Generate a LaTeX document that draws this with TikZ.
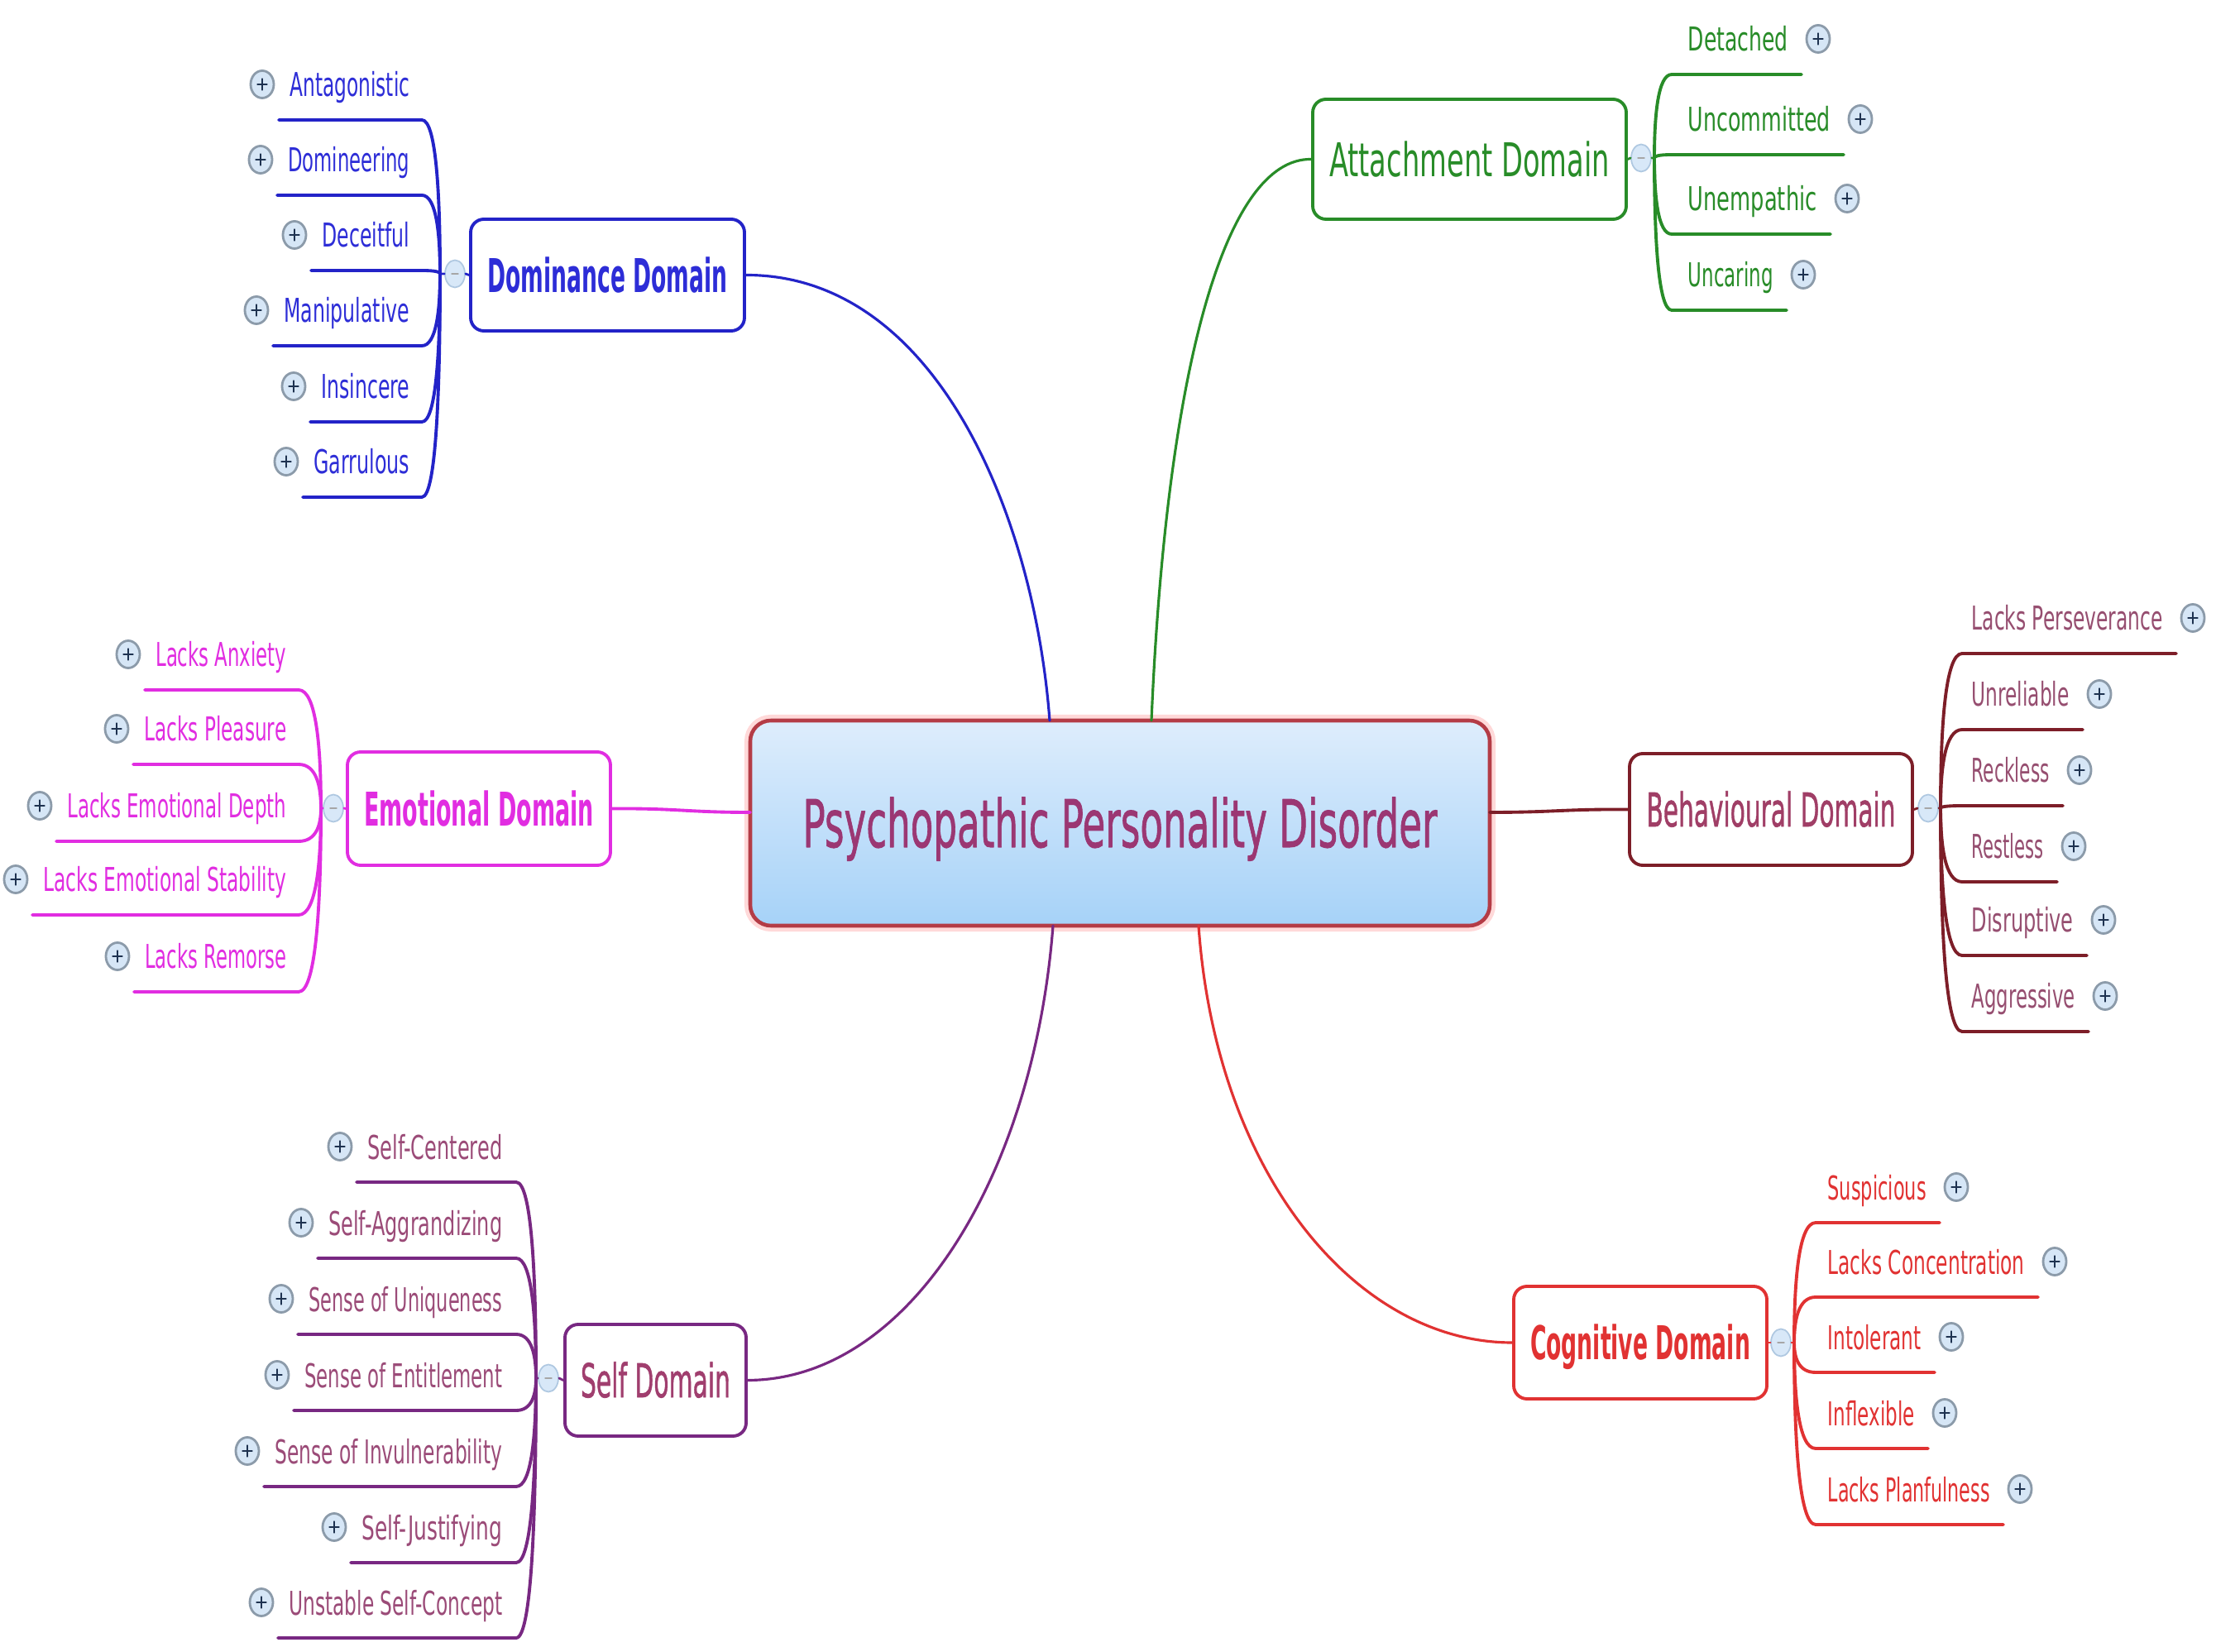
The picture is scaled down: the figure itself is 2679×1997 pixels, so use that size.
\documentclass[tikz,border=0pt]{standalone}
\usepackage{fontspec}
\setmainfont{DejaVu Sans}
\newfontfamily\medfont{DejaVu Sans}[FakeBold=1.3]
\usetikzlibrary{shapes.geometric}
\newlength\pxu \setlength\pxu{0.1mm}
\newcommand\tw[2]{\resizebox{#1\pxu}{\height}{#2}}
\definecolor{domblue}{RGB}{35,35,200}
\definecolor{domtxtc}{RGB}{45,45,215}
\definecolor{attgreen}{RGB}{40,140,40}
\definecolor{emomag}{RGB}{225,45,225}
\definecolor{behline}{RGB}{125,30,40}
\definecolor{behtxt}{RGB}{160,62,102}
\definecolor{behchild}{RGB}{150,78,112}
\definecolor{cogred}{RGB}{225,50,50}
\definecolor{selfline}{RGB}{120,40,130}
\definecolor{selftxt}{RGB}{160,62,110}
\definecolor{selfchild}{RGB}{155,75,120}
\definecolor{centtxt}{RGB}{155,55,115}
\definecolor{centline}{RGB}{180,60,70}
\definecolor{centtop}{RGB}{222,237,252}
\definecolor{centbot}{RGB}{166,210,248}
\definecolor{iconfill}{RGB}{214,230,246}
\definecolor{iconring}{RGB}{140,155,170}
\definecolor{iconplus}{RGB}{30,50,80}
\definecolor{colfill}{RGB}{216,232,248}
\definecolor{colring}{RGB}{175,200,225}
% #1 prefix #2 text right x #3 underline right x #4 jx #5 jy #6 text colour #7 line colour #8 list
\newcommand\leftgroup[8]{%
  \coordinate (#1-j) at (#4,#5);
  \foreach \t/\w/\uy [count=\i] in {#8} {
    \node[childtxt, text=#6, anchor=base east] (#1-c\i) at (#2,\uy-28) {\tw{\w}{\t}};
    \node[plusic] (#1-p\i) at (#2-\w-34,\uy-43) {};
    \coordinate (#1-a\i) at (#2-\w-14,\uy);
    \coordinate (#1-b\i) at (#3,\uy);
    \draw[uline, #7] (#1-a\i) -- (#1-b\i)
      .. controls ({#3+0.8*(#4-#3)},\uy) and (#4,{\uy+0.5*(#5-\uy)}) .. (#1-j);
  }}
% #1 prefix #2 text left x #3 underline left x #4 jx #5 jy #6 text colour #7 line colour #8 list
\newcommand\rightgroup[8]{%
  \coordinate (#1-j) at (#4,#5);
  \foreach \t/\w/\uy [count=\i] in {#8} {
    \node[childtxt, text=#6, anchor=base west] (#1-c\i) at (#2,\uy-28) {\tw{\w}{\t}};
    \node[plusic] (#1-p\i) at (#2+\w+37,\uy-43) {};
    \coordinate (#1-a\i) at (#2+\w+17,\uy);
    \coordinate (#1-b\i) at (#3,\uy);
    \draw[uline, #7] (#1-a\i) -- (#1-b\i)
      .. controls ({#3+0.8*(#4-#3)},\uy) and (#4,{\uy+0.5*(#5-\uy)}) .. (#1-j);
  }}
\begin{document}
\begin{tikzpicture}[x=0.1mm,y=-0.1mm, line cap=round, line join=round,
  childtxt/.style={font=\fontsize{11.3}{11.3}\selectfont, inner sep=0pt},
  plusic/.style={ellipse, minimum width=2.8mm, minimum height=3.3mm, inner sep=0pt,
    draw=iconring, line width=0.8pt, fill=iconfill,
    path picture={\draw[iconplus, line width=0.8pt]
      ([xshift=-0.55mm]path picture bounding box.center) -- ([xshift=0.55mm]path picture bounding box.center)
      ([yshift=-0.65mm]path picture bounding box.center) -- ([yshift=0.65mm]path picture bounding box.center);}},
  colic/.style={ellipse, minimum width=2.4mm, minimum height=3.3mm, inner sep=0pt,
    draw=colring, line width=0.5pt, fill=colfill,
    path picture={\draw[gray!70, line width=0.4pt]
      ([xshift=-0.4mm]path picture bounding box.center) -- ([xshift=0.4mm]path picture bounding box.center);}},
  dombox/.style={rounded corners=1.6mm, line width=1.1pt, fill=white, inner sep=0pt,
    font=\fontsize{16}{16}\selectfont, text height=11.7pt, text depth=0pt},
  uline/.style={line width=1.1pt},
  spine/.style={line width=0.8pt},
  link/.style={line width=0.9pt}
]
\useasboundingbox (0,0) rectangle (2679,1997);
\fill[white] (0,0) rectangle (2679,1997);

% central node
\node[draw=centline, line width=1.3pt, rounded corners=2.5mm,
  preaction={draw=red!15, line width=4pt},
  top color=centtop, bottom color=centbot,
  minimum width=89.4mm, minimum height=24.8mm, inner sep=0pt, text=centtxt,
  font=\medfont\fontsize{22.6}{22.6}\selectfont, text height=16.5pt, text depth=0pt]
  (ppd) at (1354,995) {\tw{767}{Psychopathic Personality Disorder}};

% domain nodes
\node[dombox, draw=domblue, text=domtxtc, minimum width=33.1mm, minimum height=13.5mm]
  (dom) at (734.5,332.5) {\bfseries\tw{290}{Dominance Domain}};
\node[dombox, draw=attgreen, text=attgreen, minimum width=37.9mm, minimum height=14.5mm]
  (att) at (1776.5,192.5) {\tw{339}{Attachment Domain}};
\node[dombox, draw=emomag, text=emomag, minimum width=31.8mm, minimum height=13.7mm]
  (emo) at (579,977.5) {\bfseries\tw{278}{Emotional Domain}};
\node[dombox, draw=behline, text=behtxt, minimum width=34.2mm, minimum height=13.5mm]
  (beh) at (2141,978.5) {\medfont\tw{301}{Behavioural Domain}};
\node[dombox, draw=cogred, text=cogred, minimum width=30.6mm, minimum height=13.6mm]
  (cog) at (1983,1623) {\bfseries\tw{266}{Cognitive Domain}};
\node[dombox, draw=selfline, text=selftxt, minimum width=21.9mm, minimum height=13.5mm]
  (self) at (792.5,1668.5) {\medfont\tw{181}{Self Domain}};

% connection points on the central node
\coordinate (ppdDom) at (1269,871);
\coordinate (ppdAtt) at (1392,871);
\coordinate (ppdEmo) at (907,982);
\coordinate (ppdBeh) at (1801,982);
\coordinate (ppdCog) at (1449,1119);
\coordinate (ppdSelf) at (1273,1119);

\draw[link, domblue] (dom.east) .. controls (1130,332) and (1250,620) .. (ppdDom);
\draw[link, attgreen] (ppdAtt) .. controls (1410,450) and (1480,191) .. (att.west);
\draw[link, emomag, line width=1.1pt] (emo.east) .. controls (820,977) and (830,982) .. (ppdEmo);
\draw[link, behline, line width=1.1pt] (ppdBeh) .. controls (1880,982) and (1890,978) .. (beh.west);
\draw[link, cogred] (ppdCog) .. controls (1470,1420) and (1640,1623) .. (cog.west);
\draw[link, selfline] (ppdSelf) .. controls (1250,1420) and (1100,1668) .. (self.east);

% collapse markers
\node[colic] (cdom) at (550,331) {};
\node[colic] (catt) at (1984,191) {};
\node[colic] (cemo) at (403,977) {};
\node[colic] (cbeh) at (2331,977) {};
\node[colic] (ccog) at (2153,1623) {};
\node[colic] (cself) at (663,1666) {};

% children
\leftgroup{dl}{496}{510}{532}{331}{domtxtc}{domblue}{Antagonistic/145/145, Domineering/147/236, Deceitful/106/327, Manipulative/152/418, Insincere/107/510, Garrulous/116/601}
\leftgroup{el}{347}{361}{388}{977}{emomag}{emomag}{Lacks Anxiety/158/834, Lacks Pleasure/172/924, Lacks Emotional Depth/265/1017, Lacks Emotional Stability/294/1106, Lacks Remorse/171/1199}
\leftgroup{sl}{608}{624}{648}{1666}{selfchild}{selfline}{Self-Centered/163/1429, Self-Aggrandizing/210/1521, Sense of Uniqueness/234/1613, Sense of Entitlement/239/1705, Sense of Invulnerability/275/1797, Self-Justifying/170/1889, Unstable Self-Concept/258/1980}
\rightgroup{al}{2040}{2021}{2000}{191}{attgreen}{attgreen}{Detached/121/90, Uncommitted/172/187, Unempathic/156/283, Uncaring/103/375}
\rightgroup{bl}{2383}{2372}{2346}{977}{behchild}{behline}{Lacks Perseverance/231/790, Unreliable/118/882, Reckless/94/974, Restless/87/1066, Disruptive/123/1155, Aggressive/125/1247}
\rightgroup{cl}{2209}{2195}{2169}{1623}{cogred}{cogred}{Suspicious/119/1478, Lacks Concentration/238/1568, Intolerant/113/1659, Inflexible/105/1751, Lacks Planfulness/196/1843}

% links from domain boxes to collapse markers and junctions
\draw[spine, domblue] (dom.west) -- (cdom.east) (cdom.west) -- (dl-j);
\draw[spine, attgreen] (att.east) -- (catt.west) (catt.east) -- (al-j);
\draw[spine, emomag] (emo.west) -- (cemo.east) (cemo.west) -- (el-j);
\draw[spine, behline] (beh.east) -- (cbeh.west) (cbeh.east) -- (bl-j);
\draw[spine, cogred] (cog.east) -- (ccog.west) (ccog.east) -- (cl-j);
\draw[spine, selfline] (self.west) -- (cself.east) (cself.west) -- (sl-j);
\end{tikzpicture}
\end{document}
